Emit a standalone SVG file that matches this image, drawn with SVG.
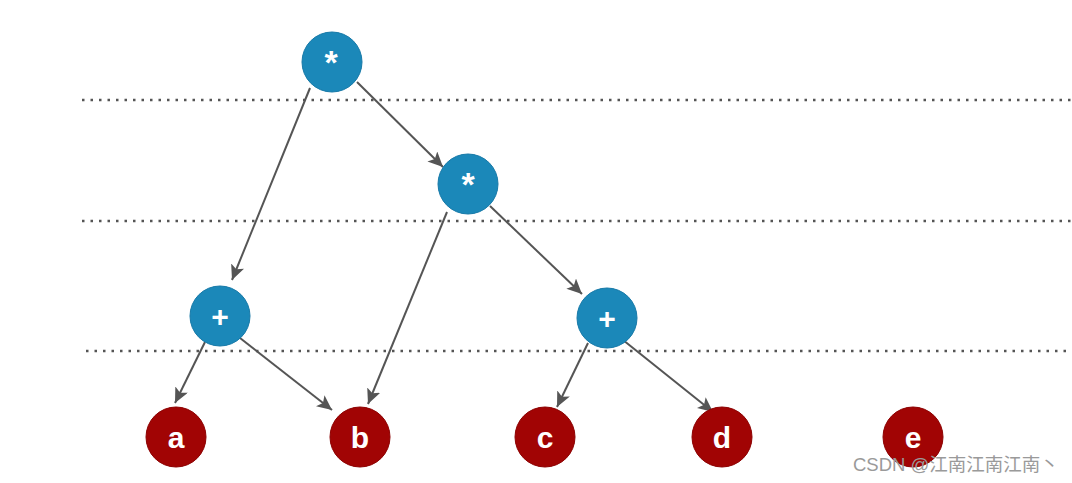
<svg xmlns="http://www.w3.org/2000/svg" width="1072" height="483" viewBox="0 0 1072 483">
<style>
.dot{stroke:#555;stroke-width:2.5;stroke-dasharray:2.5 6;fill:none}
.edge{stroke:#555;stroke-width:2;fill:none;marker-end:url(#ah)}
.op circle{fill:#1b88b9;stroke:#1679a8;stroke-width:1}
.leaf circle{fill:#a10404;stroke:#8c0000;stroke-width:1}
.lbl{fill:#fff;font-family:"Liberation Sans",Arial,sans-serif;font-weight:bold;font-size:30px;text-anchor:middle}
.ast{font-size:34px}
.wm{fill:#9a9a9a;font-family:"Liberation Sans","Noto Sans CJK SC",sans-serif;font-size:18.5px}
</style>
<defs>
<marker id="ah" markerUnits="userSpaceOnUse" markerWidth="16" markerHeight="14" refX="15" refY="7" orient="auto">
<path d="M0,0 L15,7 L0,14 L3.5,7 Z" fill="#555"/>
</marker>
</defs>
<rect width="1072" height="483" fill="#fff"/>
<g id="guides">
<line class="dot" x1="82" y1="100" x2="1072" y2="100"/>
<line class="dot" x1="82" y1="221" x2="1072" y2="221"/>
<line class="dot" x1="86" y1="351" x2="1072" y2="351"/>
</g>
<g id="connectors">
<line class="edge" x1="310" y1="88" x2="232" y2="280"/>
<line class="edge" x1="357" y1="82" x2="443" y2="167"/>
<line class="edge" x1="447" y1="212" x2="368" y2="404"/>
<line class="edge" x1="490" y1="206" x2="582" y2="294"/>
<line class="edge" x1="205" y1="342" x2="175" y2="403"/>
<line class="edge" x1="240" y1="338" x2="332" y2="410"/>
<line class="edge" x1="588" y1="343" x2="557" y2="407"/>
<line class="edge" x1="623" y1="340" x2="713" y2="412"/>
</g>
<g id="n-mul1" class="op"><circle cx="332" cy="62" r="30"/><text class="lbl ast" x="331" y="74">*</text></g>
<g id="n-mul2" class="op"><circle cx="468" cy="184" r="30"/><text class="lbl ast" x="468" y="196">*</text></g>
<g id="n-add1" class="op"><circle cx="220" cy="316" r="30"/><text class="lbl" x="220" y="327">+</text></g>
<g id="n-add2" class="op"><circle cx="607" cy="318" r="30"/><text class="lbl" x="607" y="329">+</text></g>
<g id="n-a" class="leaf"><circle cx="176" cy="437" r="30"/><text class="lbl" x="176" y="448">a</text></g>
<g id="n-b" class="leaf"><circle cx="360" cy="437" r="30"/><text class="lbl" x="360" y="448">b</text></g>
<g id="n-c" class="leaf"><circle cx="545" cy="437" r="30"/><text class="lbl" x="545" y="448">c</text></g>
<g id="n-d" class="leaf"><circle cx="722" cy="437" r="30"/><text class="lbl" x="722" y="448">d</text></g>
<g id="n-e" class="leaf"><circle cx="913" cy="437" r="30"/><text class="lbl" x="913" y="448">e</text></g>
<text class="wm" x="853" y="471">CSDN @江南江南江南丶</text>
</svg>
